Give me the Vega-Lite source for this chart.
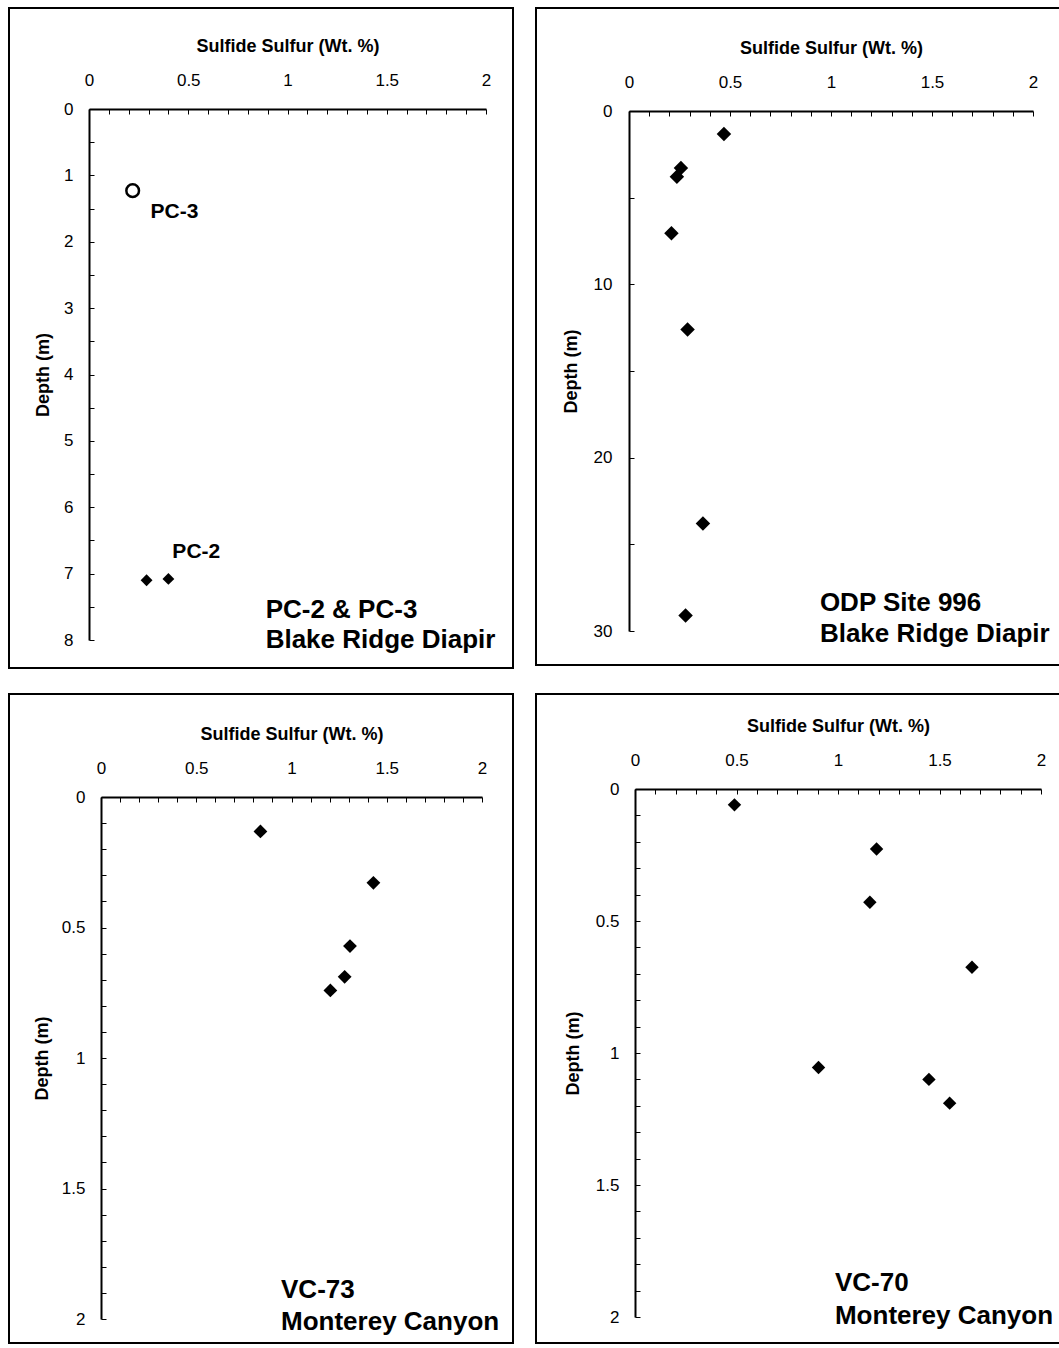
{
  "$schema": "https://vega.github.io/schema/vega-lite/v6.json",
  "padding": {"left": 8, "top": 7, "right": 0, "bottom": 0},
  "background": "white",
  "config": {
    "view": {"stroke": "black", "strokeWidth": 2, "fill": "white"},
    "font": "Liberation Sans",
    "axis": {
      "grid": false,
      "domainColor": "black",
      "domainWidth": 2,
      "tickColor": "black",
      "tickWidth": 1,
      "tickSize": -5,
      "labelFont": "Liberation Sans",
      "labelFontSize": 17,
      "labelColor": "black",
      "labelFlush": false,
      "labelOverlap": false,
      "titleFont": "Liberation Sans",
      "titleFontSize": 18,
      "titleFontWeight": "bold",
      "titleColor": "black"
    }
  },
  "datasets": {
    "tl_pc3": [{"sulfur": 0.22, "depth": 1.23}],
    "tl_pc2": [{"sulfur": 0.29, "depth": 7.1}, {"sulfur": 0.4, "depth": 7.08}],
    "tl_small": [{"sulfur": 0.31, "depth": 1.55, "label": "PC-3"}, {"sulfur": 0.42, "depth": 6.67, "label": "PC-2"}],
    "tl_text": [{"sulfur": 0.89, "depth": 7.55, "label": "PC-2 & PC-3"}, {"sulfur": 0.89, "depth": 8.0, "label": "Blake Ridge Diapir"}],
    "tr": [
      {"sulfur": 0.47, "depth": 1.33},
      {"sulfur": 0.257, "depth": 3.29},
      {"sulfur": 0.237, "depth": 3.8},
      {"sulfur": 0.21, "depth": 7.05},
      {"sulfur": 0.29, "depth": 12.6},
      {"sulfur": 0.366, "depth": 23.8},
      {"sulfur": 0.28, "depth": 29.1}
    ],
    "tr_text": [{"sulfur": 0.945, "depth": 28.4, "label": "ODP Site 996"}, {"sulfur": 0.945, "depth": 30.2, "label": "Blake Ridge Diapir"}],
    "bl": [
      {"sulfur": 0.837, "depth": 0.132},
      {"sulfur": 1.43, "depth": 0.329},
      {"sulfur": 1.307, "depth": 0.571},
      {"sulfur": 1.279, "depth": 0.689},
      {"sulfur": 1.204, "depth": 0.741}
    ],
    "bl_text": [{"sulfur": 0.945, "depth": 1.89, "label": "VC-73"}, {"sulfur": 0.945, "depth": 2.01, "label": "Monterey Canyon"}],
    "br": [
      {"sulfur": 0.49, "depth": 0.06},
      {"sulfur": 1.19, "depth": 0.227},
      {"sulfur": 1.157, "depth": 0.429},
      {"sulfur": 1.66, "depth": 0.675},
      {"sulfur": 0.904, "depth": 1.055},
      {"sulfur": 1.448, "depth": 1.1},
      {"sulfur": 1.55, "depth": 1.19}
    ],
    "br_text": [{"sulfur": 0.985, "depth": 1.87, "label": "VC-70"}, {"sulfur": 0.985, "depth": 1.995, "label": "Monterey Canyon"}]
  },
  "spacing": 24,
  "vconcat": [
    {
      "spacing": 21,
      "hconcat": [
        {
          "width": 504,
          "height": 660,
          "encoding": {
            "x": {"field": "sulfur", "type": "quantitative",
              "scale": {"domain": [0, 2], "range": [80, 477], "nice": false, "zero": false},
              "axis": {"orient": "top", "offset": -101, "title": "Sulfide Sulfur (Wt. %)",
                "values": [0,0.1,0.2,0.3,0.4,0.5,0.6,0.7,0.8,0.9,1,1.1,1.2,1.3,1.4,1.5,1.6,1.7,1.8,1.9,2],
                "labelExpr": "round(datum.value*2) == datum.value*2 ? format(datum.value, '~g') : ''",
                "labelPadding": 25, "titlePadding": 16}},
            "y": {"field": "depth", "type": "quantitative",
              "scale": {"domain": [0, 8], "range": [101, 632], "nice": false, "zero": false},
              "axis": {"orient": "left", "offset": -80, "title": "Depth (m)",
                "values": [0,0.5,1,1.5,2,2.5,3,3.5,4,4.5,5,5.5,6,6.5,7,7.5,8],
                "labelExpr": "round(datum.value) == datum.value ? format(datum.value, 'd') : ''",
                "labelPadding": 21, "titlePadding": 11}}
          },
          "layer": [
            {"data": {"name": "tl_pc3"}, "mark": {"type": "point", "shape": "circle", "filled": false, "stroke": "black", "strokeWidth": 2.5, "size": 160, "opacity": 1}},
            {"data": {"name": "tl_pc2"}, "mark": {"type": "point", "shape": "diamond", "filled": true, "color": "black", "size": 140, "opacity": 1}},
            {"data": {"name": "tl_small"}, "mark": {"type": "text", "align": "left", "baseline": "middle", "font": "Liberation Sans", "fontWeight": "bold", "fontSize": 21, "color": "black"}, "encoding": {"text": {"field": "label"}}},
            {"data": {"name": "tl_text"}, "mark": {"type": "text", "align": "left", "baseline": "middle", "font": "Liberation Sans", "fontWeight": "bold", "fontSize": 26, "color": "black"}, "encoding": {"text": {"field": "label"}}}
          ]
        },
        {
          "width": 526,
          "height": 657,
          "encoding": {
            "x": {"field": "sulfur", "type": "quantitative",
              "scale": {"domain": [0, 2], "range": [93, 497], "nice": false, "zero": false},
              "axis": {"orient": "top", "offset": -103, "title": "Sulfide Sulfur (Wt. %)",
                "values": [0,0.1,0.2,0.3,0.4,0.5,0.6,0.7,0.8,0.9,1,1.1,1.2,1.3,1.4,1.5,1.6,1.7,1.8,1.9,2],
                "labelExpr": "round(datum.value*2) == datum.value*2 ? format(datum.value, '~g') : ''",
                "labelPadding": 25, "titlePadding": 16}},
            "y": {"field": "depth", "type": "quantitative",
              "scale": {"domain": [0, 30], "range": [103, 623], "nice": false, "zero": false},
              "axis": {"orient": "left", "offset": -93, "title": "Depth (m)",
                "values": [0,5,10,15,20,25,30],
                "labelExpr": "datum.value % 10 == 0 ? format(datum.value, 'd') : ''",
                "labelPadding": 22, "titlePadding": 13}}
          },
          "layer": [
            {"data": {"name": "tr"}, "mark": {"type": "point", "shape": "diamond", "filled": true, "color": "black", "size": 210, "opacity": 1}},
            {"data": {"name": "tr_text"}, "mark": {"type": "text", "align": "left", "baseline": "middle", "font": "Liberation Sans", "fontWeight": "bold", "fontSize": 26, "color": "black"}, "encoding": {"text": {"field": "label"}}}
          ]
        }
      ]
    },
    {
      "spacing": 21,
      "hconcat": [
        {
          "width": 504,
          "height": 649,
          "encoding": {
            "x": {"field": "sulfur", "type": "quantitative",
              "scale": {"domain": [0, 2], "range": [92, 473], "nice": false, "zero": false},
              "axis": {"orient": "top", "offset": -103, "title": "Sulfide Sulfur (Wt. %)",
                "values": [0,0.1,0.2,0.3,0.4,0.5,0.6,0.7,0.8,0.9,1,1.1,1.2,1.3,1.4,1.5,1.6,1.7,1.8,1.9,2],
                "labelExpr": "round(datum.value*2) == datum.value*2 ? format(datum.value, '~g') : ''",
                "labelPadding": 25, "titlePadding": 16}},
            "y": {"field": "depth", "type": "quantitative",
              "scale": {"domain": [0, 2], "range": [103, 625], "nice": false, "zero": false},
              "axis": {"orient": "left", "offset": -92, "title": "Depth (m)",
                "values": [0,0.1,0.2,0.3,0.4,0.5,0.6,0.7,0.8,0.9,1,1.1,1.2,1.3,1.4,1.5,1.6,1.7,1.8,1.9,2],
                "labelExpr": "round(datum.value*2) == datum.value*2 ? format(datum.value, '~g') : ''",
                "labelPadding": 21, "titlePadding": 10}}
          },
          "layer": [
            {"data": {"name": "bl"}, "mark": {"type": "point", "shape": "diamond", "filled": true, "color": "black", "size": 190, "opacity": 1}},
            {"data": {"name": "bl_text"}, "mark": {"type": "text", "align": "left", "baseline": "middle", "font": "Liberation Sans", "fontWeight": "bold", "fontSize": 26, "color": "black"}, "encoding": {"text": {"field": "label"}}}
          ]
        },
        {
          "width": 526,
          "height": 649,
          "encoding": {
            "x": {"field": "sulfur", "type": "quantitative",
              "scale": {"domain": [0, 2], "range": [99, 505], "nice": false, "zero": false},
              "axis": {"orient": "top", "offset": -95, "title": "Sulfide Sulfur (Wt. %)",
                "values": [0,0.1,0.2,0.3,0.4,0.5,0.6,0.7,0.8,0.9,1,1.1,1.2,1.3,1.4,1.5,1.6,1.7,1.8,1.9,2],
                "labelExpr": "round(datum.value*2) == datum.value*2 ? format(datum.value, '~g') : ''",
                "labelPadding": 25, "titlePadding": 16}},
            "y": {"field": "depth", "type": "quantitative",
              "scale": {"domain": [0, 2], "range": [95, 623], "nice": false, "zero": false},
              "axis": {"orient": "left", "offset": -99, "title": "Depth (m)",
                "values": [0,0.1,0.2,0.3,0.4,0.5,0.6,0.7,0.8,0.9,1,1.1,1.2,1.3,1.4,1.5,1.6,1.7,1.8,1.9,2],
                "labelExpr": "round(datum.value*2) == datum.value*2 ? format(datum.value, '~g') : ''",
                "labelPadding": 21, "titlePadding": 13}}
          },
          "layer": [
            {"data": {"name": "br"}, "mark": {"type": "point", "shape": "diamond", "filled": true, "color": "black", "size": 180, "opacity": 1}},
            {"data": {"name": "br_text"}, "mark": {"type": "text", "align": "left", "baseline": "middle", "font": "Liberation Sans", "fontWeight": "bold", "fontSize": 26, "color": "black"}, "encoding": {"text": {"field": "label"}}}
          ]
        }
      ]
    }
  ]
}
